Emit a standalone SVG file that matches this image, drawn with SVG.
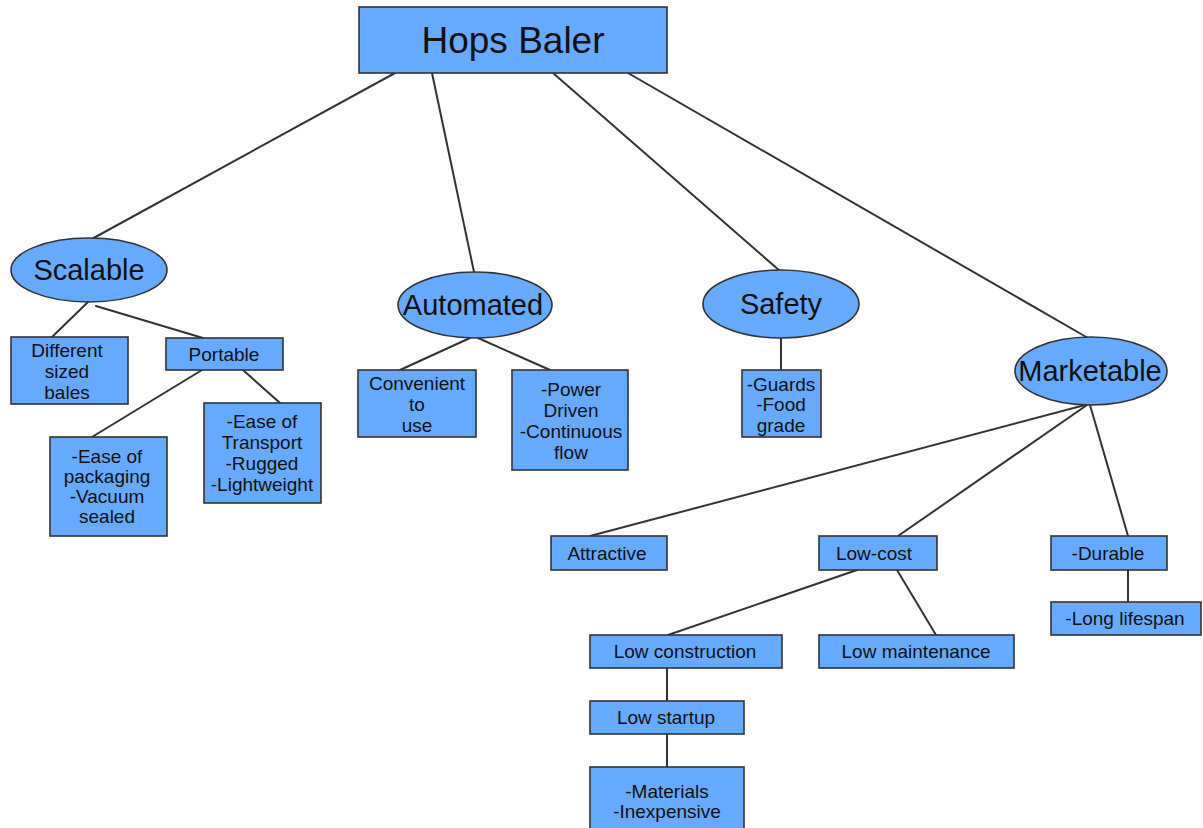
<svg xmlns="http://www.w3.org/2000/svg" width="1203" height="828" viewBox="0 0 1203 828">
<style>
.n{fill:#66aaff;stroke:#333;stroke-width:1.6}
.c line{stroke:#333;stroke-width:2;stroke-linecap:round}
text{font-family:"Liberation Sans",Arial,sans-serif;fill:#111;text-anchor:middle}
.t{font-size:37px}
.e{font-size:29px}
.s{font-size:19px}
</style>
<rect width="1203" height="828" fill="#fff"/>
<g class="c" id="connectors">
<line x1="395" y1="73" x2="90" y2="240"/>
<line x1="432" y1="73" x2="474" y2="272"/>
<line x1="553" y1="73" x2="780" y2="271"/>
<line x1="628" y1="73" x2="1088" y2="338"/>
<line x1="88" y1="302" x2="52" y2="337"/>
<line x1="96" y1="306" x2="203" y2="338"/>
<line x1="202" y1="370" x2="92" y2="437"/>
<line x1="243" y1="370" x2="280" y2="403"/>
<line x1="470" y1="338" x2="400" y2="370"/>
<line x1="478" y1="338" x2="550" y2="370"/>
<line x1="781" y1="338" x2="781" y2="370"/>
<line x1="1085" y1="405" x2="590" y2="536"/>
<line x1="1087" y1="405" x2="898" y2="536"/>
<line x1="1090" y1="405" x2="1128" y2="536"/>
<line x1="1128" y1="570" x2="1128" y2="602"/>
<line x1="857" y1="570" x2="668" y2="635"/>
<line x1="897" y1="570" x2="936" y2="635"/>
<line x1="667" y1="668" x2="667" y2="701"/>
<line x1="667" y1="734" x2="667" y2="767"/>
</g>
<g id="hops-baler"><rect class="n" x="359" y="7" width="308" height="66"/><text class="t" x="513" y="53">Hops Baler</text></g>
<g id="scalable"><ellipse class="n" cx="89" cy="270" rx="78" ry="32"/><text class="e" x="89" y="280">Scalable</text></g>
<g id="automated"><ellipse class="n" cx="475" cy="305" rx="77" ry="33"/><text class="e" x="473" y="315">Automated</text></g>
<g id="safety"><ellipse class="n" cx="781" cy="304" rx="78" ry="34"/><text class="e" x="781" y="314">Safety</text></g>
<g id="marketable"><ellipse class="n" cx="1091" cy="371" rx="76" ry="34"/><text class="e" x="1090" y="381">Marketable</text></g>
<g id="different-sized-bales"><rect class="n" x="11" y="337" width="117" height="67"/><text class="s"><tspan x="67" y="357">Different</tspan><tspan x="67" y="378">sized</tspan><tspan x="67" y="399">bales</tspan></text></g>
<g id="portable"><rect class="n" x="166" y="338" width="117" height="32"/><text class="s" x="224" y="361">Portable</text></g>
<g id="ease-of-packaging"><rect class="n" x="50" y="437" width="117" height="99"/><text class="s"><tspan x="107" y="463">-Ease of</tspan><tspan x="107" y="483">packaging</tspan><tspan x="107" y="503">-Vacuum</tspan><tspan x="107" y="523">sealed</tspan></text></g>
<g id="ease-of-transport"><rect class="n" x="204" y="403" width="117" height="100"/><text class="s"><tspan x="262" y="428">-Ease of</tspan><tspan x="262" y="449">Transport</tspan><tspan x="262" y="470">-Rugged</tspan><tspan x="262" y="491">-Lightweight</tspan></text></g>
<g id="convenient"><rect class="n" x="358" y="370" width="118" height="67"/><text class="s"><tspan x="417" y="390">Convenient</tspan><tspan x="417" y="411">to</tspan><tspan x="417" y="432">use</tspan></text></g>
<g id="power-driven"><rect class="n" x="512" y="370" width="116" height="100"/><text class="s"><tspan x="571" y="396">-Power</tspan><tspan x="571" y="417">Driven</tspan><tspan x="571" y="438">-Continuous</tspan><tspan x="571" y="459">flow</tspan></text></g>
<g id="guards"><rect class="n" x="742" y="370" width="79" height="67"/><text class="s"><tspan x="781" y="391">-Guards</tspan><tspan x="781" y="411">-Food</tspan><tspan x="781" y="432">grade</tspan></text></g>
<g id="attractive"><rect class="n" x="551" y="536" width="116" height="34"/><text class="s" x="607" y="560">Attractive</text></g>
<g id="low-cost"><rect class="n" x="819" y="536" width="118" height="34"/><text class="s" x="874" y="560">Low-cost</text></g>
<g id="durable"><rect class="n" x="1051" y="536" width="116" height="34"/><text class="s" x="1108" y="560">-Durable</text></g>
<g id="long-lifespan"><rect class="n" x="1051" y="602" width="150" height="33"/><text class="s" x="1125" y="625">-Long lifespan</text></g>
<g id="low-construction"><rect class="n" x="590" y="635" width="192" height="33"/><text class="s" x="685" y="658">Low construction</text></g>
<g id="low-maintenance"><rect class="n" x="819" y="635" width="195" height="33"/><text class="s" x="916" y="658">Low maintenance</text></g>
<g id="low-startup"><rect class="n" x="590" y="701" width="154" height="33"/><text class="s" x="666" y="724">Low startup</text></g>
<g id="materials"><rect class="n" x="590" y="767" width="154" height="70"/><text class="s"><tspan x="667" y="798">-Materials</tspan><tspan x="667" y="818">-Inexpensive</tspan></text></g>
</svg>
